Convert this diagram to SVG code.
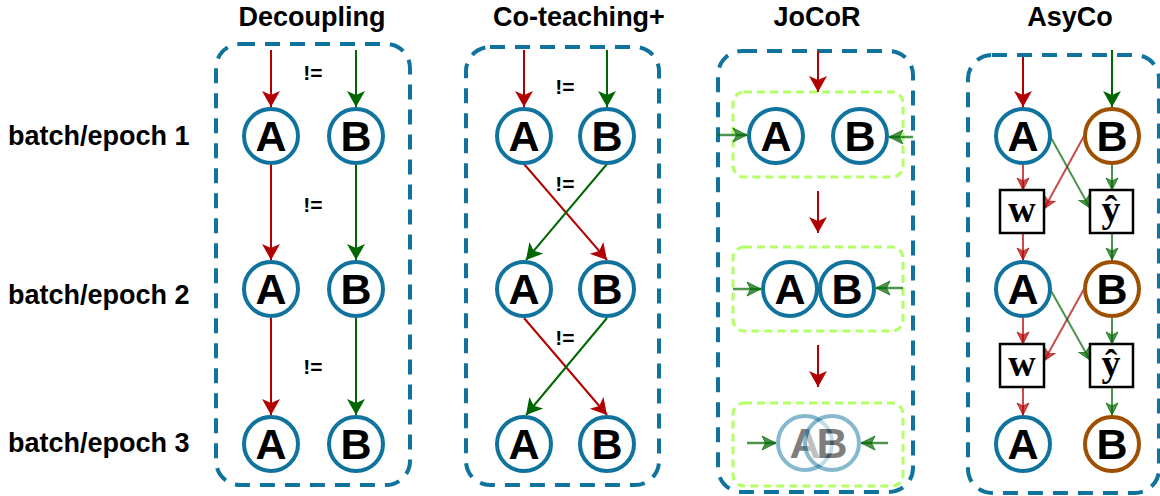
<svg xmlns="http://www.w3.org/2000/svg" width="1160" height="496" viewBox="0 0 1160 496">
  <style>
    .title { font-family: "Liberation Sans", Arial, sans-serif; font-weight: bold; font-size: 27px; fill: #000; text-anchor: middle; }
    .row { font-family: "Liberation Sans", Arial, sans-serif; font-weight: bold; font-size: 27px; fill: #000; }
    .neq { font-family: "Liberation Sans", Arial, sans-serif; font-weight: bold; font-size: 21px; fill: #000; text-anchor: middle; }
    .frame { fill: none; stroke: #10739E; stroke-width: 4; stroke-dasharray: 15 10; }
    .pair { fill: none; stroke: #B3FF66; stroke-width: 3; stroke-dasharray: 8 5; }
    .ring { fill: #fff; stroke: #10739E; stroke-width: 4; }
    .ring-b { fill: #fff; stroke: #9E5000; stroke-width: 4; }
    .lbl { font-family: "Liberation Sans", Arial, sans-serif; font-weight: bold; font-size: 43px; fill: #000; text-anchor: middle; }
    .box { fill: #fff; stroke: #000; stroke-width: 2.5; }
    .math { font-family: "Liberation Serif", "Times New Roman", serif; font-weight: bold; font-size: 38px; fill: #000; text-anchor: middle; }
    .red { fill: none; stroke: #B20000; stroke-width: 2; marker-end: url(#hRed); }
    .green { fill: none; stroke: #006600; stroke-width: 2; marker-end: url(#hGreen); }
    .redS { fill: none; stroke: #B20000; stroke-opacity: 0.7; stroke-width: 2; marker-end: url(#hRedS); }
    .greenS { fill: none; stroke: #006600; stroke-opacity: 0.7; stroke-width: 2; marker-end: url(#hGreenS); }
    .greenJ { fill: none; stroke: #006600; stroke-opacity: 0.7; stroke-width: 2.5; marker-end: url(#hGreenJ); }
    .faded { opacity: 0.5; }
  </style>
  <defs>
    <marker id="hRed" markerUnits="userSpaceOnUse" viewBox="0 0 16 18" markerWidth="16" markerHeight="18" refX="16" refY="9" orient="auto" overflow="visible">
      <path d="M0,0 L16,9 L0,18 L4,9 Z" fill="#B20000"/>
    </marker>
    <marker id="hGreen" markerUnits="userSpaceOnUse" viewBox="0 0 16 18" markerWidth="16" markerHeight="18" refX="16" refY="9" orient="auto" overflow="visible">
      <path d="M0,0 L16,9 L0,18 L4,9 Z" fill="#006600"/>
    </marker>
    <marker id="hRedS" markerUnits="userSpaceOnUse" viewBox="0 0 12 12" markerWidth="12" markerHeight="12" refX="12" refY="6" orient="auto" overflow="visible">
      <path d="M0,0 L12,6 L0,12 L3,6 Z" fill="#B20000" fill-opacity="0.7" stroke="#B20000" stroke-opacity="0.7" stroke-width="1"/>
    </marker>
    <marker id="hGreenS" markerUnits="userSpaceOnUse" viewBox="0 0 12 12" markerWidth="12" markerHeight="12" refX="12" refY="6" orient="auto" overflow="visible">
      <path d="M0,0 L12,6 L0,12 L3,6 Z" fill="#006600" fill-opacity="0.7" stroke="#006600" stroke-opacity="0.7" stroke-width="1"/>
    </marker>
    <marker id="hGreenJ" markerUnits="userSpaceOnUse" viewBox="0 0 14 14" markerWidth="14" markerHeight="14" refX="14" refY="7" orient="auto" overflow="visible">
      <path d="M0,0 L14,7 L0,14 L3.5,7 Z" fill="#006600" fill-opacity="0.7" stroke="#006600" stroke-opacity="0.7" stroke-width="1"/>
    </marker>
  </defs>

  <rect width="1160" height="496" fill="#fff"/>

  <!-- column titles -->
  <g id="titles">
    <text class="title" x="312" y="26">Decoupling</text>
    <text class="title" x="579" y="26">Co-teaching+</text>
    <text class="title" x="817" y="26">JoCoR</text>
    <text class="title" x="1070" y="26">AsyCo</text>
  </g>

  <!-- row labels -->
  <g id="rows">
    <text class="row" x="8" y="145">batch/epoch 1</text>
    <text class="row" x="8" y="304">batch/epoch 2</text>
    <text class="row" x="8" y="452">batch/epoch 3</text>
  </g>

  <!-- dashed method frames -->
  <g id="frames">
    <rect class="frame" x="216" y="44" width="194" height="441" rx="24"/>
    <rect class="frame" x="466" y="47" width="193" height="438" rx="24"/>
    <rect class="frame" x="718" y="51" width="195" height="441" rx="24"/>
    <rect class="frame" x="968" y="55" width="191" height="438" rx="24"/>
    <rect class="pair" x="733" y="92" width="170" height="85" rx="11"/>
    <rect class="pair" x="733" y="247" width="170" height="84" rx="11"/>
    <rect class="pair" x="733" y="403" width="170" height="83" rx="11"/>
  </g>

  <!-- "!=" annotations -->
  <g id="neq">
    <text class="neq" x="313" y="80">!=</text>
    <text class="neq" x="313" y="212">!=</text>
    <text class="neq" x="313" y="374">!=</text>
    <text class="neq" x="565" y="94">!=</text>
    <text class="neq" x="565" y="191">!=</text>
    <text class="neq" x="565" y="345">!=</text>
  </g>

  <!-- connectors -->
  <g id="connectors">
    <!-- Decoupling -->
    <path class="red" d="M271,50 L271,107"/>
    <path class="green" d="M356,50 L356,107"/>
    <path class="red" d="M271,165 L271,260"/>
    <path class="green" d="M356,165 L356,260"/>
    <path class="red" d="M271,318 L271,415"/>
    <path class="green" d="M356,318 L356,415"/>
    <!-- Co-teaching+ -->
    <path class="red" d="M524,50 L524,107"/>
    <path class="green" d="M607,50 L607,107"/>
    <path class="red" d="M524,164 L607,260"/>
    <path class="green" d="M607,164 L526,260"/>
    <path class="red" d="M524,318 L607,415"/>
    <path class="green" d="M607,318 L526,415"/>
    <!-- JoCoR -->
    <path class="red" d="M818,51 L818,92"/>
    <path class="red" d="M818,191 L818,233"/>
    <path class="red" d="M818,345 L818,387"/>
    <path class="greenJ" d="M718,135 L747,135"/>
    <path class="greenJ" d="M913,137 L889,137"/>
    <path class="greenJ" d="M733,289 L761,289"/>
    <path class="greenJ" d="M903,288 L876,288"/>
    <path class="greenJ" d="M747,443 L776,443"/>
    <path class="greenJ" d="M888,443 L861,443"/>
    <!-- AsyCo -->
    <path class="red" d="M1023,57 L1023,107"/>
    <path class="green" d="M1112,50 L1112,107"/>
    <path class="redS" d="M1023,165 L1023,190"/>
    <path class="greenS" d="M1112,165 L1112,190"/>
    <path class="redS" d="M1084,136 L1044,209"/>
    <path class="greenS" d="M1050,136 L1090,208"/>
    <path class="redS" d="M1023,233 L1023,260"/>
    <path class="greenS" d="M1112,233 L1112,260"/>
    <path class="redS" d="M1023,318 L1023,344"/>
    <path class="greenS" d="M1112,318 L1112,344"/>
    <path class="redS" d="M1084,289 L1044,361"/>
    <path class="greenS" d="M1050,289 L1090,360"/>
    <path class="redS" d="M1023,387 L1023,415"/>
    <path class="greenS" d="M1112,387 L1112,415"/>
  </g>

  <!-- Decoupling nodes -->
  <g id="dec-a1"><circle class="ring" cx="271" cy="136" r="27"/><text class="lbl" x="271" y="151">A</text></g>
  <g id="dec-b1"><circle class="ring" cx="356" cy="136" r="27"/><text class="lbl" x="356" y="151">B</text></g>
  <g id="dec-a2"><circle class="ring" cx="271" cy="289" r="27"/><text class="lbl" x="271" y="304">A</text></g>
  <g id="dec-b2"><circle class="ring" cx="356" cy="289" r="27"/><text class="lbl" x="356" y="304">B</text></g>
  <g id="dec-a3"><circle class="ring" cx="271" cy="444" r="27"/><text class="lbl" x="271" y="459">A</text></g>
  <g id="dec-b3"><circle class="ring" cx="356" cy="444" r="27"/><text class="lbl" x="356" y="459">B</text></g>

  <!-- Co-teaching+ nodes -->
  <g id="cot-a1"><circle class="ring" cx="524" cy="136" r="27"/><text class="lbl" x="524" y="151">A</text></g>
  <g id="cot-b1"><circle class="ring" cx="607" cy="136" r="27"/><text class="lbl" x="607" y="151">B</text></g>
  <g id="cot-a2"><circle class="ring" cx="524" cy="289" r="27"/><text class="lbl" x="524" y="304">A</text></g>
  <g id="cot-b2"><circle class="ring" cx="607" cy="289" r="27"/><text class="lbl" x="607" y="304">B</text></g>
  <g id="cot-a3"><circle class="ring" cx="524" cy="444" r="27"/><text class="lbl" x="524" y="459">A</text></g>
  <g id="cot-b3"><circle class="ring" cx="607" cy="444" r="27"/><text class="lbl" x="607" y="459">B</text></g>

  <!-- JoCoR nodes -->
  <g id="jo-a1"><circle class="ring" cx="776" cy="136" r="27"/><text class="lbl" x="776" y="151">A</text></g>
  <g id="jo-b1"><circle class="ring" cx="860" cy="136" r="27"/><text class="lbl" x="860" y="151">B</text></g>
  <g id="jo-a2"><circle class="ring" cx="790" cy="289" r="27"/><text class="lbl" x="790" y="304">A</text></g>
  <g id="jo-b2"><circle class="ring" cx="847" cy="289" r="27"/><text class="lbl" x="847" y="304">B</text></g>
  <!-- merged pair: the two faded nodes deliberately overlap -->
  <g id="jo-a3" class="faded"><circle class="ring" cx="805" cy="443" r="27"/><text class="lbl" x="805" y="458">A</text></g>
  <g id="jo-b3" class="faded"><circle class="ring" cx="832" cy="443" r="27"/><text class="lbl" x="832" y="458">B</text></g>

  <!-- AsyCo nodes -->
  <g id="asy-a1"><circle class="ring" cx="1023" cy="136" r="27"/><text class="lbl" x="1023" y="151">A</text></g>
  <g id="asy-b1"><circle class="ring-b" cx="1112" cy="136" r="27"/><text class="lbl" x="1112" y="151">B</text></g>
  <g id="asy-w1"><rect class="box" x="1000" y="190" width="44" height="43"/><text class="math" x="1022" y="222">w</text></g>
  <g id="asy-y1"><rect class="box" x="1090" y="190" width="43" height="43"/><text class="math" x="1111" y="222">ŷ</text></g>
  <g id="asy-a2"><circle class="ring" cx="1023" cy="289" r="27"/><text class="lbl" x="1023" y="304">A</text></g>
  <g id="asy-b2"><circle class="ring-b" cx="1112" cy="289" r="27"/><text class="lbl" x="1112" y="304">B</text></g>
  <g id="asy-w2"><rect class="box" x="1000" y="344" width="44" height="43"/><text class="math" x="1022" y="376">w</text></g>
  <g id="asy-y2"><rect class="box" x="1090" y="344" width="43" height="43"/><text class="math" x="1111" y="376">ŷ</text></g>
  <g id="asy-a3"><circle class="ring" cx="1023" cy="444" r="27"/><text class="lbl" x="1023" y="459">A</text></g>
  <g id="asy-b3"><circle class="ring-b" cx="1112" cy="444" r="27"/><text class="lbl" x="1112" y="459">B</text></g>
</svg>
